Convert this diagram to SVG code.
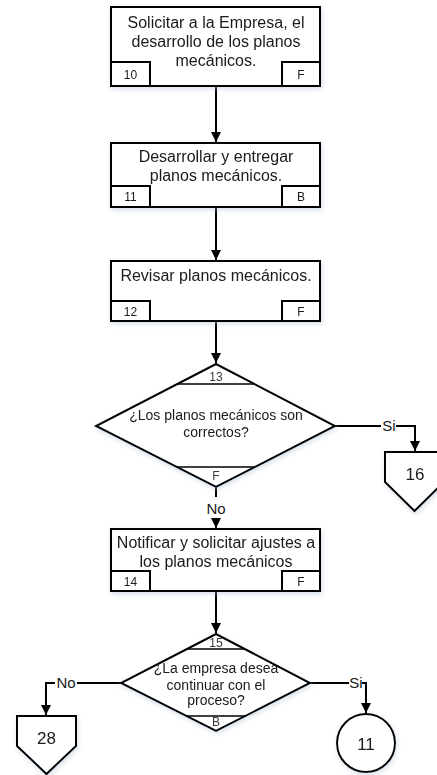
<svg xmlns="http://www.w3.org/2000/svg" width="437" height="775" viewBox="0 0 437 775">
  <style>
    .shape { fill: #ffffff; stroke: #000000; stroke-width: 2; }
    .tag { fill: #ffffff; stroke: #000000; stroke-width: 2; }
    .sep { fill: none; stroke: #000000; stroke-width: 1.5; }
    .wire { fill: none; stroke: #000000; stroke-width: 2; }
    text { font-family: "Liberation Sans", Arial, sans-serif; fill: #1a1a1a; text-anchor: middle; }
    .main { font-size: 16px; }
    .q { font-size: 14px; }
    .small { font-size: 12px; }
    .num { font-size: 12px; fill: #3a3a3a; }
    .ref { font-size: 17px; }
    .lbl { font-size: 15px; }
  </style>
  <defs>
    <marker id="arrow" viewBox="0 0 10 10" refX="10" refY="5" markerWidth="5" markerHeight="5" orient="auto" markerUnits="strokeWidth">
      <path d="M0 0 L10 5 L0 10 Z" fill="#000000"/>
    </marker>
    <filter id="soft" x="-10%" y="-10%" width="120%" height="130%">
      <feGaussianBlur in="SourceAlpha" stdDeviation="2.5"/>
      <feOffset dx="1" dy="2" result="b"/>
      <feFlood flood-color="#9fb6cf" flood-opacity="0.45"/>
      <feComposite in2="b" operator="in"/>
      <feMerge><feMergeNode/><feMergeNode in="SourceGraphic"/></feMerge>
    </filter>
  </defs>

  <!-- connectors -->
  <g id="connectors">
    <path class="wire" d="M216 87 V142" marker-end="url(#arrow)"/>
    <path class="wire" d="M216 208 V260" marker-end="url(#arrow)"/>
    <path class="wire" d="M216 322 V363" marker-end="url(#arrow)"/>
    <!-- decision 13: Si -> 16 -->
    <path class="wire" d="M335 426 H381 M396 426 H415 V451" marker-end="url(#arrow)"/>
    <text class="lbl" x="389" y="431">Si</text>
    <!-- decision 13: No -> 14 -->
    <path class="wire" d="M216 487 V497 M216 518 V528" marker-end="url(#arrow)"/>
    <text class="lbl" x="216" y="514">No</text>
    <path class="wire" d="M216 592 V633" marker-end="url(#arrow)"/>
    <!-- decision 15: No -> 28 -->
    <path class="wire" d="M121 683 H77 M55 683 H46 V715" marker-end="url(#arrow)"/>
    <text class="lbl" x="66" y="688">No</text>
    <!-- decision 15: Si -> 11 -->
    <path class="wire" d="M310 683 H349 M362 683 H366 V713" marker-end="url(#arrow)"/>
    <text class="lbl" x="356" y="688">Si</text>
  </g>

  <!-- activity 10 -->
  <g id="step10" filter="url(#soft)">
    <rect class="shape" x="111" y="7" width="209" height="79"/>
    <rect class="tag" x="111" y="62" width="39" height="24"/>
    <rect class="tag" x="282" y="62" width="38" height="24"/>
    <text class="main" x="216" y="28">Solicitar a la Empresa, el</text>
    <text class="main" x="216" y="47">desarrollo de los planos</text>
    <text class="main" x="216" y="66">mecánicos.</text>
    <text class="small" x="130.5" y="78.5">10</text>
    <text class="small" x="301" y="78.5">F</text>
  </g>

  <!-- activity 11 -->
  <g id="step11" filter="url(#soft)">
    <rect class="shape" x="111" y="143" width="209" height="64"/>
    <rect class="tag" x="111" y="186" width="39" height="21"/>
    <rect class="tag" x="282" y="186" width="38" height="21"/>
    <text class="main" x="216" y="162">Desarrollar y entregar</text>
    <text class="main" x="216" y="181">planos mecánicos.</text>
    <text class="small" x="130.5" y="200.5">11</text>
    <text class="small" x="301" y="200.5">B</text>
  </g>

  <!-- activity 12 -->
  <g id="step12" filter="url(#soft)">
    <rect class="shape" x="111" y="261" width="209" height="60"/>
    <rect class="tag" x="111" y="301" width="39" height="20"/>
    <rect class="tag" x="282" y="301" width="38" height="20"/>
    <text class="main" x="216" y="281">Revisar planos mecánicos.</text>
    <text class="small" x="130.5" y="315.5">12</text>
    <text class="small" x="301" y="315.5">F</text>
  </g>

  <!-- decision 13 -->
  <g id="step13" filter="url(#soft)">
    <polygon class="shape" points="216,364 335,426 216,487 96,426"/>
    <path class="sep" d="M177 384 H254 M177 467 H254"/>
    <text class="num" x="216" y="381">13</text>
    <text class="q" x="216" y="420">¿Los planos mecánicos son</text>
    <text class="q" x="216" y="437">correctos?</text>
    <text class="num" x="216" y="480">F</text>
  </g>

  <!-- off-page reference 16 -->
  <g id="ref16" filter="url(#soft)">
    <polygon class="shape" points="385,452 444,452 444,482 414.5,511 385,482"/>
    <text class="ref" x="415" y="480">16</text>
  </g>

  <!-- activity 14 -->
  <g id="step14" filter="url(#soft)">
    <rect class="shape" x="111" y="529" width="209" height="62"/>
    <rect class="tag" x="111" y="571" width="39" height="20"/>
    <rect class="tag" x="282" y="571" width="38" height="20"/>
    <text class="main" x="216" y="548">Notificar y solicitar ajustes a</text>
    <text class="main" x="216" y="567">los planos mecánicos</text>
    <text class="small" x="130.5" y="585.5">14</text>
    <text class="small" x="301" y="585.5">F</text>
  </g>

  <!-- decision 15 -->
  <g id="step15" filter="url(#soft)">
    <polygon class="shape" points="216,634 310,683 216,731 121,683"/>
    <path class="sep" d="M187 649 H245 M187 716 H246"/>
    <text class="num" x="216" y="647">15</text>
    <text class="q" x="216" y="673">¿La empresa desea</text>
    <text class="q" x="216" y="690">continuar con el</text>
    <text class="q" x="216" y="705">proceso?</text>
    <text class="num" x="216" y="726">B</text>
  </g>

  <!-- off-page reference 28 -->
  <g id="ref28" filter="url(#soft)">
    <polygon class="shape" points="17,716 76,716 76,746 46.5,774 17,746"/>
    <text class="ref" x="46.5" y="744">28</text>
  </g>

  <!-- on-page reference 11 -->
  <g id="ref11" filter="url(#soft)">
    <circle class="shape" cx="366" cy="743" r="29"/>
    <text class="ref" x="366" y="750">11</text>
  </g>
</svg>
